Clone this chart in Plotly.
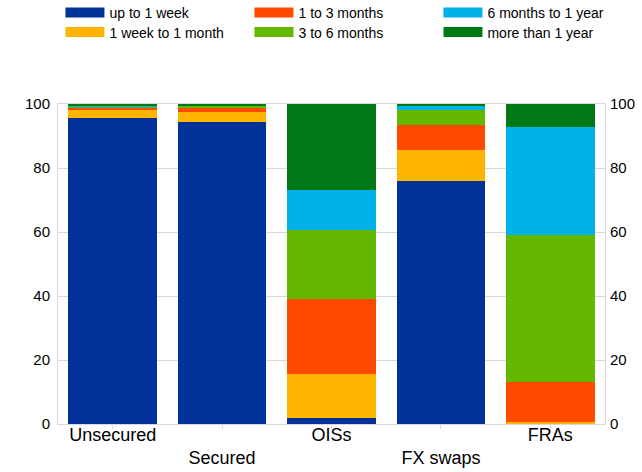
import plotly.graph_objects as go

categories = ["Unsecured", "Secured", "OISs", "FX swaps", "FRAs"]
tick_text = ["Unsecured", "<br>Secured", "OISs", "<br>FX swaps", "FRAs"]

series_names = ["up to 1 week", "1 week to 1 month", "1 to 3 months",
                "3 to 6 months", "6 months to 1 year", "more than 1 year"]
up_to_1_week = [95.5, 94.4, 2.0, 76.0, 0.2]
week_to_month = [2.5, 3.1, 13.5, 9.7, 0.4]
one_to_three_months = [0.9, 1.4, 23.6, 7.6, 12.5]
three_to_six_months = [0.4, 0.6, 21.6, 4.8, 46.0]
six_months_to_year = [0.1, 0.1, 12.4, 1.2, 33.7]
more_than_year = [0.6, 0.4, 26.9, 0.7, 7.2]

series_values = [up_to_1_week, week_to_month, one_to_three_months,
                 three_to_six_months, six_months_to_year, more_than_year]
colors = ["#003299", "#FFB400", "#FF4B00", "#65B800", "#00B1EA", "#007816"]
legend_rows = ["legend", "legend2", "legend", "legend2", "legend", "legend2"]
y_ticks = [0, 20, 40, 60, 80, 100]

FONT = "Liberation Sans, Arial, sans-serif"
GRID = "#d9d9d9"

fig = go.Figure()
for name, vals, col in zip(series_names, series_values, colors):
    fig.add_trace(go.Bar(
        x=categories, y=vals, name=name, marker_color=col,
        marker_line_width=0, showlegend=False,
    ))

# legend entries: wide rectangular swatches drawn as thick legend lines
for name, col, lg in zip(series_names, colors, legend_rows):
    fig.add_trace(go.Scatter(
        x=[None], y=[None], mode="lines", name=name, legend=lg,
        line=dict(color=col, width=15), hoverinfo="skip",
    ))

# invisible trace to anchor right axis
fig.add_trace(go.Scatter(x=categories, y=[None] * len(categories), yaxis="y2",
                         showlegend=False, hoverinfo="skip"))

legend_common = dict(
    orientation="h", xref="paper", yref="paper",
    x=-0.001, xanchor="left", yanchor="top", traceorder="normal",
    font=dict(size=14), entrywidth=132, indentation=3, itemwidth=39,
    itemclick=False, itemdoubleclick=False, bgcolor="rgba(0,0,0,0)",
)

fig.update_layout(
    width=642, height=472,
    margin=dict(l=58, r=37, t=104, b=48, autoexpand=False),
    barmode="stack", bargap=0.19,
    plot_bgcolor="white", paper_bgcolor="white",
    font=dict(family=FONT, size=15, color="#000000"),
    legend=dict(legend_common, y=1 + (104 + 3.0) / 320),
    legend2=dict(legend_common, y=1 + (104 - 16.5) / 320),
    xaxis=dict(
        tickmode="array", tickvals=categories, ticktext=tick_text,
        tickfont=dict(size=18), ticks="outside", ticklen=4, tickcolor=GRID,
        showline=True, linecolor=GRID, linewidth=1, mirror=True,
        showgrid=False, automargin=False, ticklabelstandoff=-10,
    ),
    yaxis=dict(
        range=[0, 100], tickvals=y_ticks, showgrid=True, gridcolor=GRID,
        showline=True, linecolor=GRID, mirror=True, zeroline=False,
        tickfont=dict(size=15), ticklabelstandoff=4, automargin=False,
    ),
    yaxis2=dict(
        range=[0, 100], tickvals=y_ticks, overlaying="y", side="right",
        showgrid=False, zeroline=False, showline=False,
        tickfont=dict(size=15), ticklabelstandoff=4, automargin=False,
    ),
)

fig.write_html("out.html")
